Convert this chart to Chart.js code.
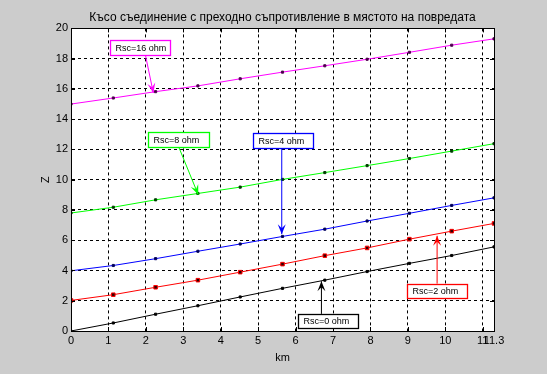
<!DOCTYPE html>
<html>
<head>
<meta charset="utf-8">
<script src="https://cdn.jsdelivr.net/npm/chart.js@4.4.0/dist/chart.umd.min.js"></script>
<style>
  html, body { margin: 0; padding: 0; background: #cccccc; }
  #wrap { width: 547px; height: 374px; }
</style>
</head>
<body>
<div id="wrap"><canvas id="zChart"></canvas></div>
<script>
// distance along the line, km
const km = [0, 1.13, 2.26, 3.39, 4.52, 5.65, 6.78, 7.91, 9.04, 10.17, 11.3];

// impedance for each fault resistance
const zRsc0 = [0, 0.53, 1.11, 1.67, 2.25, 2.82, 3.36, 3.93, 4.47, 4.99, 5.56];
const zRsc2 = [2.02, 2.4, 2.89, 3.36, 3.89, 4.42, 4.98, 5.49, 6.07, 6.6, 7.11];
const zRsc4 = [3.98, 4.33, 4.78, 5.27, 5.75, 6.25, 6.73, 7.27, 7.78, 8.3, 8.8];
const zRsc8 = [7.8, 8.18, 8.67, 9.09, 9.51, 10.02, 10.47, 10.93, 11.4, 11.89, 12.38];
const zRsc16 = [15.0, 15.4, 15.82, 16.2, 16.67, 17.11, 17.53, 17.96, 18.42, 18.89, 19.31];

const xTicks = [0, 1, 2, 3, 4, 5, 6, 7, 8, 9, 10, 11, 11.3];
const labels = ['Rsc=0 ohm', 'Rsc=2 ohm', 'Rsc=4 ohm', 'Rsc=8 ohm', 'Rsc=16 ohm'];

// text boxes with arrows, in data units
const notes = [
  { text: labels[0], color: '#000000', box: [6.07, 7.67, 1.13, 0.22], arrow: [6.69, 1.13, 6.69, 3.29] },
  { text: labels[1], color: '#ff0000', box: [8.98, 10.59, 3.13, 2.18], arrow: [9.78, 3.13, 9.78, 6.29] },
  { text: labels[2], color: '#0000ff', box: [4.87, 6.47, 13.07, 12.11], arrow: [5.63, 12.11, 5.63, 6.4] },
  { text: labels[3], color: '#00ff00', box: [2.06, 3.68, 13.18, 12.15], arrow: [2.88, 12.15, 3.4, 9.0] },
  { text: labels[4], color: '#ff00ff', box: [1.04, 2.65, 19.23, 18.22], arrow: [1.99, 18.22, 2.2, 15.73] }
];

const FONT = "'Liberation Sans', Arial, sans-serif";
Chart.defaults.font.family = FONT;
Chart.defaults.color = '#000';

const pts = (ys) => km.map((x, i) => ({ x: x, y: ys[i] }));

const series = [
  { label: labels[0], data: pts(zRsc0), borderColor: '#000000', pointBackgroundColor: '#000000', pointBorderColor: '#000000', pointRadius: 1.5 },
  { label: labels[1], data: pts(zRsc2), borderColor: '#ff0000', pointBackgroundColor: '#300000', pointBorderColor: '#ff0000', pointRadius: 2.5 },
  { label: labels[2], data: pts(zRsc4), borderColor: '#0000ff', pointBackgroundColor: '#000040', pointBorderColor: '#000060', pointRadius: 1.5 },
  { label: labels[3], data: pts(zRsc8), borderColor: '#00ff00', pointBackgroundColor: '#003000', pointBorderColor: '#004000', pointRadius: 1.5 },
  { label: labels[4], data: pts(zRsc16), borderColor: '#ff00ff', pointBackgroundColor: '#400040', pointBorderColor: '#500050', pointRadius: 1.5 }
];

const matlabFrame = {
  id: 'matlabFrame',
  beforeDraw(chart) {
    const { ctx, chartArea: a } = chart;
    ctx.save();
    ctx.fillStyle = '#cccccc';
    ctx.fillRect(0, 0, chart.width, chart.height);
    ctx.fillStyle = '#ffffff';
    ctx.fillRect(a.left, a.top, a.right - a.left, a.bottom - a.top);
    ctx.restore();
  },
  afterDatasetsDraw(chart) {
    const { ctx, chartArea: a, scales: { x, y } } = chart;
    ctx.save();
    // axes box + inward ticks
    ctx.strokeStyle = '#000';
    ctx.lineWidth = 1;
    ctx.strokeRect(Math.round(a.left) + 0.5, Math.round(a.top) + 0.5,
      Math.round(a.right - a.left), Math.round(a.bottom - a.top));
    ctx.beginPath();
    xTicks.forEach(v => {
      const px = Math.round(x.getPixelForValue(v)) + 0.5;
      ctx.moveTo(px, a.bottom); ctx.lineTo(px, a.bottom - 4);
      ctx.moveTo(px, a.top); ctx.lineTo(px, a.top + 4);
    });
    y.ticks.forEach(t => {
      const py = Math.round(y.getPixelForValue(t.value)) + 0.5;
      ctx.moveTo(a.left, py); ctx.lineTo(a.left + 4, py);
      ctx.moveTo(a.right, py); ctx.lineTo(a.right - 4, py);
    });
    ctx.stroke();

    // annotations
    notes.forEach(n => {
      const x0 = x.getPixelForValue(n.arrow[0]), y0 = y.getPixelForValue(n.arrow[1]);
      const x1 = x.getPixelForValue(n.arrow[2]), y1 = y.getPixelForValue(n.arrow[3]);
      const ang = Math.atan2(y1 - y0, x1 - x0);
      const hl = 10, hw = 4;
      ctx.strokeStyle = n.color;
      ctx.fillStyle = n.color;
      ctx.lineWidth = 1;
      ctx.beginPath();
      ctx.moveTo(x0, y0);
      ctx.lineTo(x1, y1);
      ctx.stroke();
      ctx.beginPath();
      ctx.moveTo(x1, y1);
      ctx.lineTo(x1 - hl * Math.cos(ang) + hw * Math.sin(ang), y1 - hl * Math.sin(ang) - hw * Math.cos(ang));
      ctx.lineTo(x1 - hl * 0.6 * Math.cos(ang), y1 - hl * 0.6 * Math.sin(ang));
      ctx.lineTo(x1 - hl * Math.cos(ang) - hw * Math.sin(ang), y1 - hl * Math.sin(ang) + hw * Math.cos(ang));
      ctx.closePath();
      ctx.fill();

      const bl = Math.round(x.getPixelForValue(n.box[0])) + 0.5;
      const br = Math.round(x.getPixelForValue(n.box[1])) + 0.5;
      const bt = Math.round(y.getPixelForValue(n.box[2])) + 0.5;
      const bb = Math.round(y.getPixelForValue(n.box[3])) + 0.5;
      ctx.fillStyle = '#ffffff';
      ctx.fillRect(bl, bt, br - bl, bb - bt);
      ctx.strokeStyle = n.color;
      ctx.lineWidth = 1.3;
      ctx.strokeRect(bl, bt, br - bl, bb - bt);
      ctx.fillStyle = '#000';
      ctx.font = '9px ' + FONT;
      ctx.textBaseline = 'middle';
      ctx.textAlign = 'left';
      ctx.fillText(n.text, bl + 5, (bt + bb) / 2 + 0.5);
    });
    ctx.restore();
  }
};

new Chart(document.getElementById('zChart').getContext('2d'), {
  type: 'line',
  data: {
    datasets: series.map(s => Object.assign({
      borderWidth: 1,
      pointStyle: 'rect',
      pointBorderWidth: 1,
      pointHoverRadius: 2,
      fill: false,
      tension: 0
    }, s))
  },
  options: {
    responsive: true,
    maintainAspectRatio: false,
    animation: false,
    layout: { padding: { left: 0, right: 53, top: 0, bottom: 0 } },
    plugins: {
      legend: { display: false },
      tooltip: { enabled: false },
      title: {
        display: true,
        fullSize: false,
        text: 'Късо съединение с преходно съпротивление в мястото на повредата',
        font: { size: 12, weight: 'normal', family: FONT },
        color: '#000',
        padding: { top: 10, bottom: 4 }
      }
    },
    scales: {
      x: {
        type: 'linear',
        min: 0,
        max: 11.3,
        afterBuildTicks: axis => { axis.ticks = xTicks.map(v => ({ value: v })); },
        afterFit: axis => { axis.height = 43; },
        ticks: {
          autoSkip: false,
          maxRotation: 0,
          padding: 3,
          font: { size: 11 },
          callback: v => String(v)
        },
        grid: { color: '#000', lineWidth: 1, drawTicks: false },
        border: { display: true, color: '#000', dash: [3, 3] },
        title: { display: true, text: 'km', font: { size: 11 }, padding: { top: 0, bottom: 9 } }
      },
      y: {
        min: 0,
        max: 20,
        afterFit: axis => { axis.width = 71; },
        ticks: { stepSize: 2, padding: 3, font: { size: 11 } },
        grid: { color: '#000', lineWidth: 1, drawTicks: false },
        border: { display: true, color: '#000', dash: [3, 3] },
        title: { display: true, text: 'Z', font: { size: 11 }, padding: { top: 39, bottom: 0 } }
      }
    }
  },
  plugins: [matlabFrame]
});
</script>
</body>
</html>
